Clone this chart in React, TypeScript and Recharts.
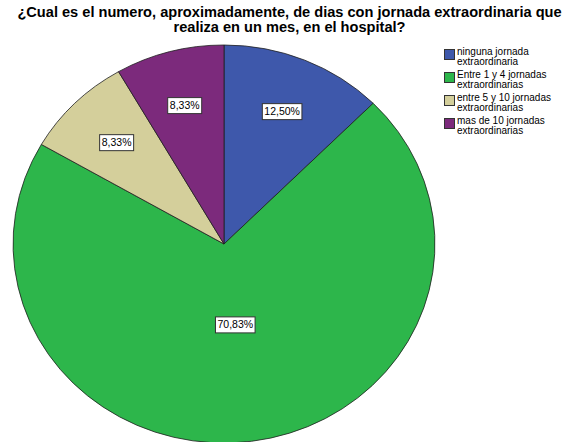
import React from 'react';
import { PieChart, Pie, Cell, Legend } from 'recharts';

const categories = [
  'ninguna jornada extraordinaria',
  'Entre 1 y 4 jornadas extraordinarias',
  'entre 5 y 10 jornadas extraordinarias',
  'mas de 10 jornadas extraordinarias',
];
const legendLines = [
  ['ninguna jornada', 'extraordinaria'],
  ['Entre 1 y 4 jornadas', 'extraordinarias'],
  ['entre 5 y 10 jornadas', 'extraordinarias'],
  ['mas de 10 jornadas', 'extraordinarias'],
];
const percents = [12.5, 70.83, 8.33, 8.33];
const colors = ['#3e58ab', '#2db64b', '#d4cf9b', '#7c2a7c'];

const data = categories.map((name, i) => ({ name, value: percents[i] }));

const XSCALE = 1.06;
const RAD = Math.PI / 180;
const FONT = '"Liberation Sans", Arial, sans-serif';

const EllipseSector = (props: any) => {
  const { cx, cy, outerRadius, startAngle, endAngle, fill } = props;
  const rx = outerRadius * XSCALE;
  const ry = outerRadius;
  const p = (a: number) => [cx + rx * Math.cos(a * RAD), cy - ry * Math.sin(a * RAD)];
  const [x1, y1] = p(startAngle);
  const [x2, y2] = p(endAngle);
  const large = Math.abs(startAngle - endAngle) > 180 ? 1 : 0;
  const sweep = startAngle > endAngle ? 1 : 0;
  const d = `M${cx},${cy} L${x1},${y1} A${rx},${ry} 0 ${large} ${sweep} ${x2},${y2} Z`;
  return <path d={d} fill={fill} stroke="#1e1e1e" strokeWidth={0.8} strokeLinejoin="round" />;
};

const renderLabel = (props: any) => {
  const { cx, cy, midAngle, outerRadius, value } = props;
  const big = value > 50;
  const r = outerRadius * (big ? 0.41 : 0.72);
  const x = cx + r * XSCALE * Math.cos(midAngle * RAD);
  const y = cy - r * Math.sin(midAngle * RAD);
  const text = value.toFixed(2).replace('.', ',') + '%';
  const w = text.length * 5.6 + 6;
  const h = 16;
  return (
    <g>
      <rect x={x - w / 2} y={y - h / 2} width={w} height={h} fill="#ffffff" stroke="#333333" strokeWidth={1} />
      <text x={x} y={y + 3.6} textAnchor="middle" fontFamily={FONT} fontSize={10.5} fill="#000">
        {text}
      </text>
    </g>
  );
};

const renderLegend = () => (
  <div style={{ fontFamily: FONT }}>
    {legendLines.map((lines, i) => (
      <div key={i} style={{ position: 'absolute', left: 0, top: i * 23, width: 140, height: 20 }}>
        <div
          style={{
            position: 'absolute',
            left: 0,
            top: 0,
            width: 9,
            height: 9,
            background: colors[i],
            border: '1px solid #333',
          }}
        />
        <div
          style={{
            position: 'absolute',
            left: 13,
            top: -2,
            fontSize: 10,
            lineHeight: '9.5px',
            color: '#000',
            whiteSpace: 'nowrap',
          }}
        >
          <div style={{ height: 9.5 }}>{lines[0]}</div>
          <div style={{ height: 9.5 }}>{lines[1]}</div>
        </div>
      </div>
    ))}
  </div>
);

export default function App() {
  return (
    <div style={{ position: 'absolute', left: 0, top: 0, width: 579, height: 442, background: '#fff', overflow: 'hidden' }}>
      <div
        style={{
          position: 'absolute',
          left: 0,
          top: 5,
          width: 579,
          textAlign: 'center',
          fontFamily: FONT,
          fontWeight: 'bold',
          fontSize: 14.6,
          lineHeight: '15px',
          color: '#000',
          whiteSpace: 'nowrap',
        }}
      >
        <div style={{ height: 15 }}>¿Cual es el numero, aproximadamente, de dias con jornada extraordinaria que</div>
        <div style={{ height: 15 }}>realiza en un mes, en el hospital?</div>
      </div>
      <PieChart width={579} height={442} margin={{ top: 0, right: 0, bottom: 0, left: 0 }}>
        <Pie
          data={data}
          dataKey="value"
          nameKey="name"
          cx={224}
          cy={244}
          outerRadius={199}
          startAngle={90}
          endAngle={-270}
          isAnimationActive={false}
          label={renderLabel}
          labelLine={false}
          shape={EllipseSector}
          inactiveShape={EllipseSector}
          activeShape={EllipseSector}
        >
          {data.map((d, i) => (
            <Cell key={d.name} fill={colors[i]} />
          ))}
        </Pie>
        <Legend
          content={renderLegend}
          wrapperStyle={{ position: 'absolute', left: 444, top: 49, width: 140, height: 100 }}
        />
      </PieChart>
    </div>
  );
}
